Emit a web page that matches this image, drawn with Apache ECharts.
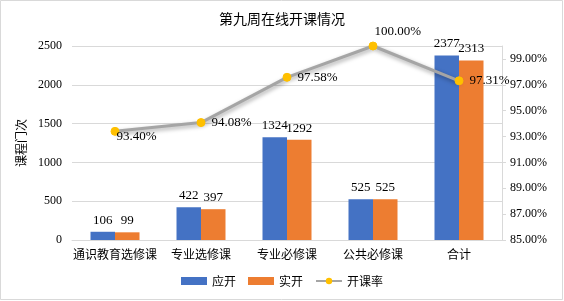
<!DOCTYPE html>
<html><head><meta charset="utf-8">
<script src="https://cdn.jsdelivr.net/npm/echarts@6/dist/echarts.min.js"></script>
<style>html,body{margin:0;padding:0;background:#fff}#c{width:564px;height:301px}</style>
</head><body><div id="c"></div>
<script>
const categories = ['通识教育选修课','专业选修课','专业必修课','公共必修课','合计'];
const planned = [106, 422, 1324, 525, 2377];
const actual = [99, 397, 1292, 525, 2313];
const rate = [93.40, 94.08, 97.58, 100.00, 97.31];
const leftTicks = [0, 500, 1000, 1500, 2000, 2500];

const serif = '"Liberation Serif","Times New Roman","Noto Sans CJK SC",serif';
const cjk = '"Noto Sans CJK SC",sans-serif';

const chart = echarts.init(document.getElementById('c'));
chart.setOption({
  animation: false,
  backgroundColor: '#fff',
  title: {text: '第九周在线开课情况', left: 'center', top: 7,
    textStyle: {fontFamily: cjk, fontSize: 14, fontWeight: 'normal', color: '#000'}},
  graphic: [{type: 'rect', shape: {x: 0.5, y: 0.5, width: 562, height: 299},
    style: {fill: 'none', stroke: '#d9d9d9', lineWidth: 1}, silent: true}],
  legend: {bottom: 9, left: 'center', itemGap: 12, itemWidth: 26, itemHeight: 8,
    textStyle: {fontFamily: cjk, fontSize: 12, color: '#000'},
    data: [{name: '应开', icon: 'rect'}, {name: '实开', icon: 'rect'}, {name: '开课率'}]},
  grid: {left: 72, right: 62, top: 46, bottom: 61},
  xAxis: {type: 'category', data: categories,
    axisLine: {lineStyle: {color: '#d9d9d9', width: 1}}, axisTick: {show: false},
    axisLabel: {interval: 0, fontFamily: cjk, fontSize: 12, color: '#000', margin: 8}},
  yAxis: [{type: 'value', min: leftTicks[0], max: leftTicks[leftTicks.length-1], interval: 500,
      name: '课程门次', nameLocation: 'middle', nameRotate: 90, nameGap: 34,
      nameTextStyle: {fontFamily: cjk, fontSize: 12, color: '#000'},
      axisLine: {show: false}, axisTick: {show: false},
      axisLabel: {fontFamily: serif, fontSize: 12, color: '#000', margin: 10, formatter: v => String(v)},
      splitLine: {lineStyle: {color: '#d9d9d9'}}},
    {type: 'value', min: 85, max: 100, interval: 2, position: 'right',
      axisLine: {show: true, lineStyle: {color: '#d9d9d9'}},
      axisTick: {show: true, length: 4, lineStyle: {color: '#d9d9d9'}},
      axisLabel: {fontFamily: serif, fontSize: 12, color: '#000', margin: 8, showMaxLabel: false,
        formatter: v => v.toFixed(2) + '%'},
      splitLine: {show: false}}],
  series: [
    {name: '应开', type: 'bar', data: planned, barWidth: 24.5, barGap: '0%',
      itemStyle: {color: '#4472C4'},
      label: {show: true, position: 'top', fontFamily: serif, fontSize: 13, color: '#000', distance: 5}},
    {name: '实开', type: 'bar', data: actual, barWidth: 24.5,
      itemStyle: {color: '#ED7D31'},
      label: {show: true, position: 'top', fontFamily: serif, fontSize: 13, color: '#000', distance: 5}},
    {name: '开课率', type: 'line', yAxisIndex: 1,
      data: rate.map((v, i) => i === 3 ? {value: v, label: {position: [6, -16]}} : (i === 0 ? {value: v, label: {position: [6, 3]}} : v)),
      symbol: 'circle', symbolSize: 8,
      lineStyle: {color: '#A5A5A5', width: 3, shadowColor: 'rgba(0,0,0,0.35)', shadowBlur: 4, shadowOffsetX: 1, shadowOffsetY: 2},
      itemStyle: {color: '#FFC000', borderColor: '#FFC000'},
      label: {show: true, position: 'right', distance: 6, fontFamily: serif, fontSize: 13, color: '#000',
        formatter: p => p.value.toFixed(2) + '%'}}
  ]
});
</script></body></html>
